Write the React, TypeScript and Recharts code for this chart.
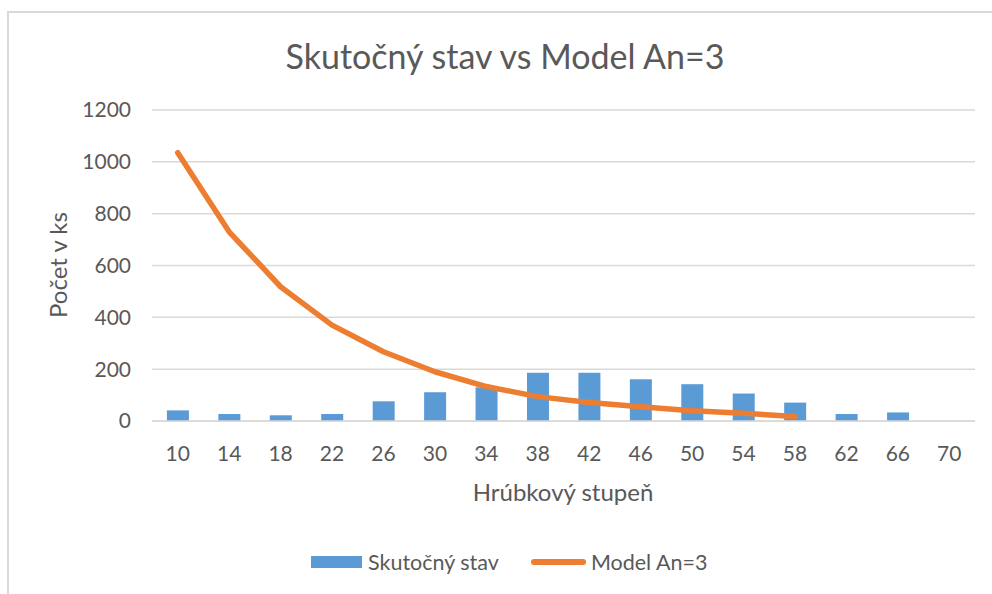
import React from 'react';
import { ComposedChart, Bar, Line, XAxis, YAxis, CartesianGrid } from 'recharts';

const categories = ['10', '14', '18', '22', '26', '30', '34', '38', '42', '46', '50', '54', '58', '62', '66', '70'];
const skutocnyStav = [41, 27, 22, 27, 76, 111, 130, 186, 186, 161, 142, 106, 71, 27, 33, 0];
const modelAn3: (number | null)[] = [1035, 730, 518, 370, 267, 190, 133, 94, 71, 55, 40, 30, 17, null, null, null];
const yTicks = [0, 200, 400, 600, 800, 1000, 1200];

const data = categories.map((c, i) => ({ cat: c, skutocny: skutocnyStav[i], model: modelAn3[i] }));

const FONT = 'Lato, "Open Sans", sans-serif';
const TXT = '#595959';
const BLUE = '#5B9BD5';
const ORANGE = '#ED7D31';
const GRID = '#D9D9D9';

export default function App() {
  return (
    <div style={{ position: 'absolute', left: 0, top: 0, width: 992, height: 594, background: '#fff', overflow: 'hidden', fontFamily: FONT }}>
      <div style={{ position: 'absolute', left: 7, top: 11, width: 1100, height: 700, border: `2px solid ${GRID}`, boxSizing: 'border-box' }} />
      <div style={{ position: 'absolute', left: 0, top: 0 }}>
        <ComposedChart width={992} height={594} data={data} barCategoryGap="29%" margin={{ top: 110, right: 17, left: 0, bottom: 133 }}>
          <CartesianGrid vertical={false} stroke={GRID} strokeWidth={1.5} />
          <XAxis
            dataKey="cat"
            height={40}
            tickLine={false}
            tickSize={0}
            tickMargin={25}
            axisLine={{ stroke: GRID, strokeWidth: 1.5 }}
            tick={{ fill: TXT, fontSize: 21, fontFamily: FONT }}
            interval={0}
          />
          <YAxis
            width={152}
            domain={[0, 1200]}
            ticks={yTicks}
            tickLine={false}
            axisLine={false}
            tickSize={0}
            tickMargin={21}
            tick={{ fill: TXT, fontSize: 21, fontFamily: FONT }}
          />
          <Bar dataKey="skutocny" fill={BLUE} isAnimationActive={false} />
          <Line
            dataKey="model"
            type="linear"
            stroke={ORANGE}
            strokeWidth={5.5}
            strokeLinecap="round"
            strokeLinejoin="round"
            dot={false}
            activeDot={false}
            connectNulls={false}
            isAnimationActive={false}
          />
        </ComposedChart>
      </div>
      <div style={{ position: 'absolute', left: 0, width: 992, top: 36, textAlign: 'center', paddingLeft: 18, boxSizing: 'border-box', fontSize: 34, color: TXT, whiteSpace: 'nowrap', lineHeight: '40px' }}>
        Skutočný stav vs Model An=3
      </div>
      <div style={{ position: 'absolute', left: 58, top: 265, width: 0, height: 0 }}>
        <div style={{ position: 'absolute', left: 0, top: 0, transform: 'translate(-50%, -50%) rotate(-90deg)', fontSize: 24, color: TXT, whiteSpace: 'nowrap', lineHeight: '28px' }}>
          Počet v ks
        </div>
      </div>
      <div style={{ position: 'absolute', left: 563, top: 492, width: 0, height: 0 }}>
        <div style={{ position: 'absolute', left: 0, top: 0, transform: 'translate(-50%, -50%)', fontSize: 24, color: TXT, whiteSpace: 'nowrap', lineHeight: '28px' }}>
          Hrúbkový stupeň
        </div>
      </div>
      <div style={{ position: 'absolute', left: 311, top: 550, height: 24, display: 'flex', alignItems: 'center', fontSize: 21.5, color: TXT, whiteSpace: 'nowrap' }}>
        <span style={{ display: 'inline-block', width: 51, height: 12, background: BLUE, marginRight: 6 }} />
        <span>Skutočný stav</span>
        <span style={{ display: 'inline-block', width: 55, height: 6, borderRadius: 3, background: ORANGE, marginLeft: 32, marginRight: 5 }} />
        <span>Model An=3</span>
      </div>
    </div>
  );
}
